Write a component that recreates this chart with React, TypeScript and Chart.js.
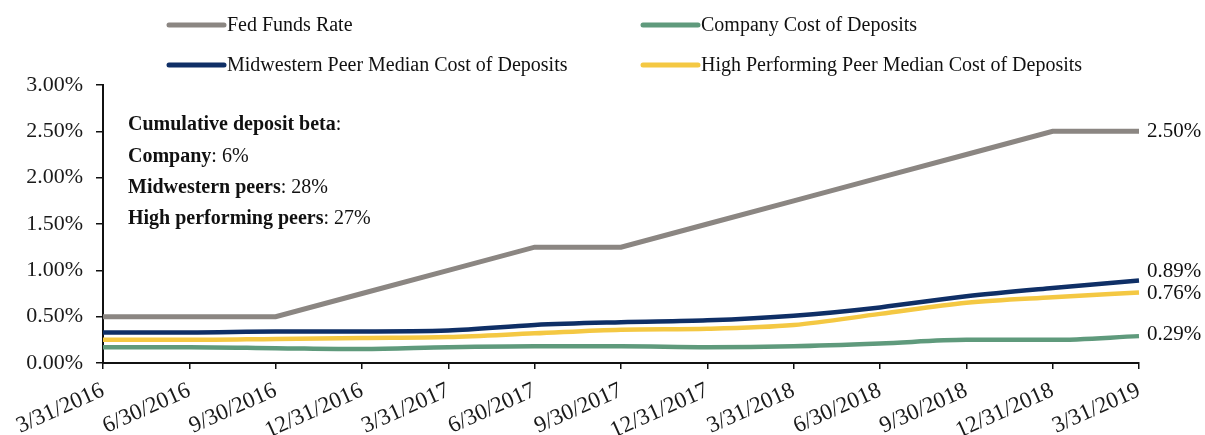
import React, { useEffect, useRef } from "react";
import { Chart, registerables } from "chart.js";

Chart.register(...registerables);

const categories = [
  "3/31/2016", "6/30/2016", "9/30/2016", "12/31/2016", "3/31/2017", "6/30/2017",
  "9/30/2017", "12/31/2017", "3/31/2018", "6/30/2018", "9/30/2018", "12/31/2018", "3/31/2019",
];
const fedFunds = [0.5, 0.5, 0.5, 0.75, 1.0, 1.25, 1.25, 1.5, 1.75, 2.0, 2.25, 2.5, 2.5];
const companyCost = [0.17, 0.17, 0.16, 0.15, 0.17, 0.18, 0.18, 0.17, 0.18, 0.21, 0.25, 0.25, 0.29];
const midwesternCost = [0.33, 0.33, 0.34, 0.34, 0.35, 0.41, 0.44, 0.46, 0.51, 0.6, 0.72, 0.81, 0.89];
const highPerfCost = [0.25, 0.25, 0.26, 0.27, 0.28, 0.32, 0.36, 0.37, 0.41, 0.53, 0.65, 0.71, 0.76];
const yTicks = [0, 0.5, 1.0, 1.5, 2.0, 2.5, 3.0];
const seriesNames = [
  "Fed Funds Rate",
  "Company Cost of Deposits",
  "Midwestern Peer Median Cost of Deposits",
  "High Performing Peer Median Cost of Deposits",
];
const betaLines: [string, string][] = [
  ["Cumulative deposit beta", ":"],
  ["Company", ": 6%"],
  ["Midwestern peers", ": 28%"],
  ["High performing peers", ": 27%"],
];

const COLORS = ["#8b8682", "#5f9a7c", "#0f2f66", "#f4c843"];
const FONT = "'Liberation Serif', 'Times New Roman', serif";

const overlayPlugin = {
  id: "overlay",
  afterDraw(chart: any) {
    const ctx = chart.ctx;
    ctx.save();
    // legend
    const legendPos = [
      { ds: 0, x: 169, y: 25 },
      { ds: 1, x: 643, y: 25 },
      { ds: 2, x: 169, y: 65 },
      { ds: 3, x: 643, y: 65 },
    ];
    ctx.font = `20px ${FONT}`;
    ctx.textBaseline = "middle";
    ctx.textAlign = "left";
    legendPos.forEach((p) => {
      const ds = chart.data.datasets[p.ds];
      ctx.strokeStyle = ds.borderColor;
      ctx.lineWidth = 5;
      ctx.lineCap = "round";
      ctx.beginPath();
      ctx.moveTo(p.x, p.y);
      ctx.lineTo(p.x + 55, p.y);
      ctx.stroke();
      ctx.fillStyle = "#111";
      ctx.fillText(ds.label, p.x + 58, p.y + 1);
    });
    // annotation
    const ax = 128;
    const ay = [125, 157, 188, 219];
    betaLines.forEach((ln, i) => {
      ctx.font = `bold 20px ${FONT}`;
      ctx.fillStyle = "#111";
      ctx.fillText(ln[0], ax, ay[i]);
      const w = ctx.measureText(ln[0]).width;
      ctx.font = `20px ${FONT}`;
      ctx.fillText(ln[1], ax + w, ay[i]);
    });
    // end labels
    const xs = chart.scales.x;
    const ys = chart.scales.y;
    const offsets = [0, -2, -9, 1];
    ctx.font = `21px ${FONT}`;
    ctx.fillStyle = "#111";
    chart.data.datasets.forEach((ds: any, i: number) => {
      const last = ds.data.length - 1;
      const v = ds.data[last];
      const x = xs.getPixelForValue(last) + 8;
      const y = ys.getPixelForValue(v) + offsets[i];
      ctx.fillText(v.toFixed(2) + "%", x, y);
    });
    ctx.restore();
  },
};

export default function App() {
  const ref = useRef<HTMLCanvasElement | null>(null);
  useEffect(() => {
    if (!ref.current) return;
    const mk = (i: number, data: number[], width: number, smooth: boolean, order: number) => ({
      label: seriesNames[i],
      data,
      borderColor: COLORS[i],
      backgroundColor: COLORS[i],
      borderWidth: width,
      pointRadius: 0,
      tension: smooth ? 0.3 : 0,
      cubicInterpolationMode: smooth ? ("monotone" as const) : ("default" as const),
      fill: false,
      order,
    });
    const chart = new Chart(ref.current, {
      type: "line",
      data: {
        labels: categories,
        datasets: [
          mk(0, fedFunds, 5, false, 0),
          mk(1, companyCost, 4.5, true, 3),
          mk(2, midwesternCost, 4.5, true, 1),
          mk(3, highPerfCost, 4.5, true, 2),
        ],
      },
      options: {
        animation: false,
        responsive: true,
        maintainAspectRatio: false,
        layout: { padding: { top: 85, right: 66, left: 0, bottom: 0 } },
        plugins: { legend: { display: false }, tooltip: { enabled: false } },
        scales: {
          x: {
            offset: false,
            grid: { display: true, drawOnChartArea: false, drawTicks: true, tickLength: 6, color: "#111", lineWidth: 1.5 },
            border: { display: true, color: "#111", width: 2 },
            ticks: {
              autoSkip: false,
              minRotation: 24,
              maxRotation: 24,
              padding: 8,
              color: "#1a1a1a",
              font: { family: FONT, size: 23 },
            },
            afterFit: (s: any) => {
              s.height = 72;
            },
          },
          y: {
            min: 0,
            max: 3,
            afterBuildTicks: (s: any) => {
              s.ticks = yTicks.map((v) => ({ value: v }));
            },
            grid: { display: true, drawOnChartArea: false, drawTicks: true, tickLength: 7, color: "#111", lineWidth: 1.5 },
            border: { display: true, color: "#111", width: 2 },
            ticks: {
              padding: 13,
              color: "#1a1a1a",
              font: { family: FONT, size: 22 },
              callback: (v: any) => Number(v).toFixed(2) + "%",
            },
            afterFit: (s: any) => {
              s.width = 103;
            },
          },
        },
      },
      plugins: [overlayPlugin],
    });
    return () => chart.destroy();
  }, []);
  return (
    <div style={{ position: "absolute", left: 0, top: 0, width: 1205, height: 435, background: "#fff" }}>
      <canvas ref={ref} />
    </div>
  );
}
